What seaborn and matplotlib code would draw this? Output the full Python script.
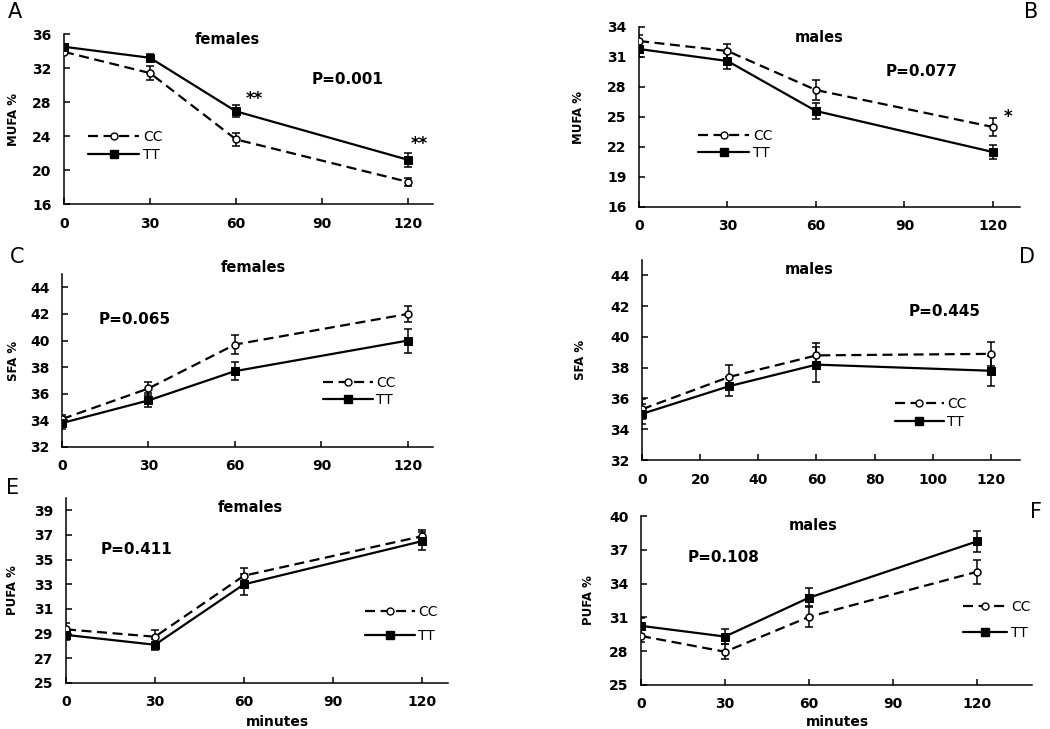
import matplotlib
matplotlib.use('Agg')
import matplotlib.pyplot as plt
from matplotlib.lines import Line2D
import seaborn as sns

sns.set_style('ticks')
plt.rcParams['font.family'] = ['DejaVu Sans']
plt.rcParams.update({'text.color': 'black', 'axes.labelcolor': 'black',
                     'xtick.color': 'black', 'ytick.color': 'black',
                     'axes.edgecolor': 'black'})

# ---- data ----
minutes = [0, 30, 60, 120]
groups = ['CC', 'TT']

mufa_f_cc = [33.9, 31.4, 23.6, 18.6]
mufa_f_cc_se = [0.3, 0.8, 0.8, 0.45]
mufa_f_tt = [34.5, 33.2, 26.9, 21.2]
mufa_f_tt_se = [0.35, 0.5, 0.7, 0.8]

mufa_m_cc = [32.6, 31.6, 27.7, 24.0]
mufa_m_cc_se = [0.6, 0.7, 1.0, 0.9]
mufa_m_tt = [31.8, 30.6, 25.6, 21.5]
mufa_m_tt_se = [0.8, 0.8, 0.8, 0.7]

sfa_f_cc = [34.1, 36.4, 39.7, 42.0]
sfa_f_cc_se = [0.3, 0.5, 0.7, 0.63]
sfa_f_tt = [33.8, 35.5, 37.7, 40.0]
sfa_f_tt_se = [0.45, 0.53, 0.7, 0.9]

sfa_m_cc = [35.3, 37.4, 38.8, 38.9]
sfa_m_cc_se = [0.65, 0.76, 0.78, 0.76]
sfa_m_tt = [35.0, 36.8, 38.2, 37.8]
sfa_m_tt_se = [0.65, 0.62, 1.14, 0.98]

pufa_f_cc = [29.35, 28.75, 33.7, 36.9]
pufa_f_cc_se = [0.48, 0.57, 0.6, 0.52]
pufa_f_tt = [28.9, 28.1, 33.0, 36.5]
pufa_f_tt_se = [0.38, 0.46, 0.86, 0.72]

pufa_m_cc = [29.35, 27.95, 31.05, 35.05]
pufa_m_cc_se = [0.52, 0.68, 0.92, 1.08]
pufa_m_tt = [30.25, 29.3, 32.75, 37.75]
pufa_m_tt_se = [0.74, 0.67, 0.84, 0.93]

W, H = 1050, 729
fig = plt.figure(figsize=(W / 100, H / 100), dpi=100)


def fx(x):
    return x / W


def fy(y):
    return 1 - y / H


def panel(box, cc, cc_se, tt, tt_se, ylim, yticks, xlim, xticks, ylabel, ylab_x):
    left, top, right, bottom = box
    ax = fig.add_axes([fx(left), fy(bottom), (right - left) / W, (bottom - top) / H])
    sns.lineplot(x=minutes, y=cc, ax=ax, color='black', lw=1.6, linestyle='--',
                 marker='o', markersize=5, markerfacecolor='white', markeredgecolor='black',
                 markeredgewidth=1.1, zorder=3)
    ax.lines[-1].set_dashes((4.5, 2.5))
    ax.errorbar(minutes, cc, yerr=cc_se, fmt='none', ecolor='black', elinewidth=1.1,
                capsize=3, capthick=1.1, zorder=2)
    sns.lineplot(x=minutes, y=tt, ax=ax, color='black', lw=1.6, marker='s', markersize=6,
                 markerfacecolor='black', markeredgecolor='black', zorder=4)
    ax.errorbar(minutes, tt, yerr=tt_se, fmt='none', ecolor='black', elinewidth=1.1,
                capsize=3, capthick=1.1, zorder=2)
    ax.set_xlim(*xlim)
    ax.set_ylim(*ylim)
    ax.set_xticks(xticks)
    ax.set_yticks(yticks)
    ax.tick_params(direction='in', length=4, width=1.1, pad=9, labelsize=10)
    for lab in ax.get_xticklabels() + ax.get_yticklabels():
        lab.set_fontweight('bold')
    for s in ['top', 'right']:
        ax.spines[s].set_visible(False)
    for s in ['left', 'bottom']:
        ax.spines[s].set_linewidth(1.1)
    ax.set_ylabel(ylabel, fontsize=8.5, fontweight='bold')
    # label coords give the right-hand edge of the rotated label
    ax.yaxis.set_label_coords((ylab_x - left) / (right - left), 0.5)
    ax.set_xlabel('')
    return ax


def legend(ax, x, yc, spacing, hl):
    h_cc = Line2D([], [], color='black', lw=1.6, dashes=(4.5, 2.5), marker='o', markersize=5,
                  markerfacecolor='white', markeredgecolor='black')
    h_tt = Line2D([], [], color='black', lw=1.6, marker='s', markersize=6,
                  markerfacecolor='black')
    ax.legend([h_cc, h_tt], groups, loc='center left', bbox_to_anchor=(fx(x), fy(yc)),
              bbox_transform=fig.transFigure, frameon=False, fontsize=10,
              handlelength=hl, handletextpad=0.25, labelspacing=spacing,
              borderpad=0, borderaxespad=0)


def txt(x, y, s, size=10.5, weight='bold'):
    fig.text(fx(x), fy(y), s, ha='center', va='center', fontsize=size, fontweight=weight)


# A
axA = panel((64, 34, 433, 204), mufa_f_cc, mufa_f_cc_se, mufa_f_tt, mufa_f_tt_se,
            (16, 36), range(16, 37, 4), (0, 128.7), [0, 30, 60, 90, 120], 'MUFA %', 20)
legend(axA, 88, 146, 0.3, 3.7)
txt(227, 39, 'females')
txt(348, 80, 'P=0.001', 11)
txt(254, 99, '**', 12)
txt(419, 144, '**', 12)
txt(15, 12, 'A', 15, 'normal')

# B
axB = panel((639, 27, 1020, 207), mufa_m_cc, mufa_m_cc_se, mufa_m_tt, mufa_m_tt_se,
            (16, 34), range(16, 35, 3), (0, 129.2), [0, 30, 60, 90, 120], 'MUFA %', 585)
legend(axB, 698, 144.5, 0.25, 3.7)
txt(819, 37, 'males')
txt(922, 72, 'P=0.077', 11)
txt(1008, 117, '*', 12)
txt(1031, 12, 'B', 15, 'normal')

# C
axC = panel((62, 274, 433, 447), sfa_f_cc, sfa_f_cc_se, sfa_f_tt, sfa_f_tt_se,
            (32, 45), range(32, 45, 2), (0, 128.7), [0, 30, 60, 90, 120], 'SFA %', 20)
legend(axC, 323, 391.5, 0.25, 3.6)
txt(253, 268, 'females')
txt(135, 320, 'P=0.065', 11)
txt(17, 257, 'C', 15, 'normal')

# D
axD = panel((642, 260, 1020, 460), sfa_m_cc, sfa_m_cc_se, sfa_m_tt, sfa_m_tt_se,
            (32, 45), range(32, 45, 2), (0, 130), range(0, 121, 20), 'SFA %', 587)
legend(axD, 895, 413, 0.3, 3.5)
txt(809, 269, 'males')
txt(945, 311, 'P=0.445', 11)
txt(1027, 257, 'D', 15, 'normal')

# E
axE = panel((66, 498, 448, 683), pufa_f_cc, pufa_f_cc_se, pufa_f_tt, pufa_f_tt_se,
            (25, 40), range(25, 40, 2), (0, 128.8), [0, 30, 60, 90, 120], 'PUFA %', 19)
legend(axE, 365, 624, 0.75, 3.6)
txt(250, 507, 'females')
txt(136, 550, 'P=0.411', 11)
txt(277, 722, 'minutes', 10)
txt(13, 488, 'E', 15, 'normal')

# F
axF = panel((641, 516, 1032, 685), pufa_m_cc, pufa_m_cc_se, pufa_m_tt, pufa_m_tt_se,
            (25, 40), range(25, 41, 3), (0, 139.6), [0, 30, 60, 90, 120], 'PUFA %', 595)
legend(axF, 963, 620, 0.9, 3.2)
txt(813, 526, 'males')
txt(724, 558, 'P=0.108', 11)
txt(837, 722, 'minutes', 10)
txt(1036, 512, 'F', 15, 'normal')

fig.savefig('out.png', dpi=100)
